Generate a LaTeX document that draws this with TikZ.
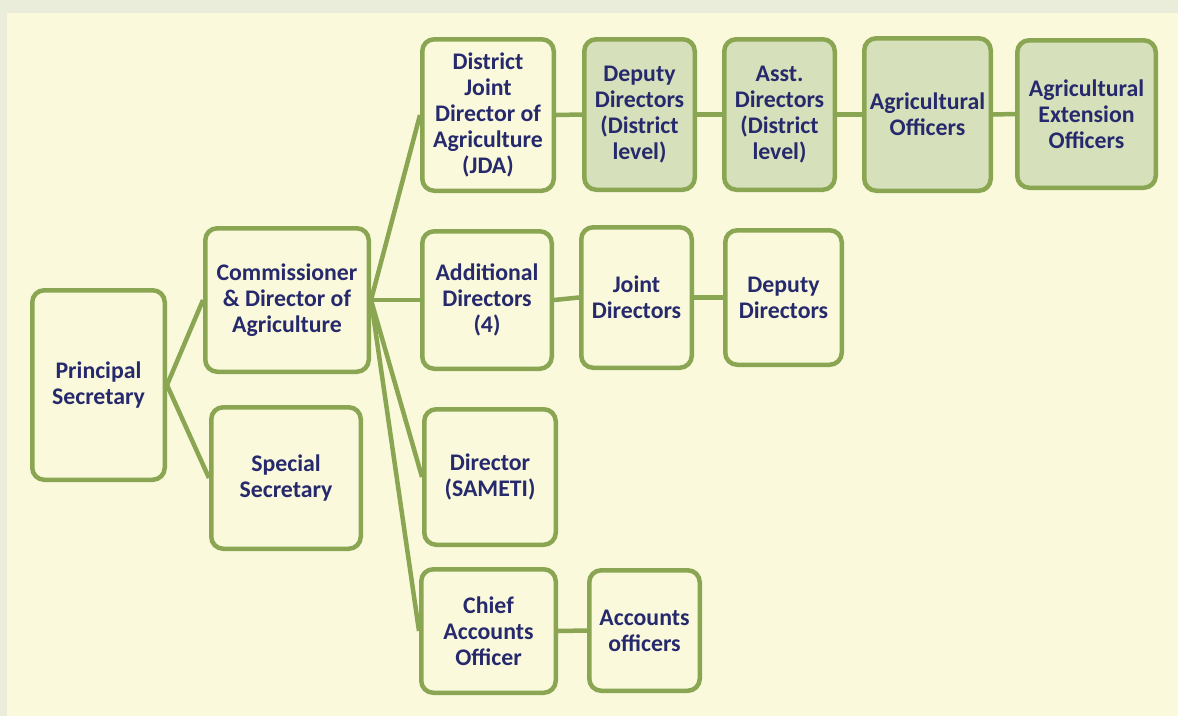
\documentclass[tikz,border=0pt]{standalone}
\usepackage{fontspec}
\setmainfont{Carlito}
\definecolor{pagebg}{HTML}{FAF9DC}
\definecolor{framebg}{HTML}{EAEDDA}
\definecolor{leaf}{HTML}{8AA653}
\definecolor{leaffill}{HTML}{D6E0BA}
\definecolor{ink}{HTML}{262A6C}
\begin{document}
\begin{tikzpicture}[x=1pt,y=-1pt,
  box/.style={draw=leaf, line width=4.5pt, rounded corners=12pt, fill=pagebg,
    align=center, text=ink, inner sep=0pt,
    font=\bfseries\fontsize{23.8}{26.2}\selectfont},
  shaded/.style={box, fill=leaffill},
  link/.style={draw=leaf, line width=4.5pt}]
% page and frame
\fill[framebg] (0,0) rectangle (1178,716);
\fill[pagebg] (7,13) rectangle (1178,716);
\useasboundingbox (0,0) rectangle (1178,716);

% boxes
\node[box, minimum width=132.5pt, minimum height=189.5pt] (ps) at (98.5,385) {Principal\\Secretary};
\node[box, minimum width=163.5pt, minimum height=143.5pt] (com) at (287,300) {Commissioner\\\& Director of\\Agriculture};
\node[box, minimum width=149.5pt, minimum height=141.5pt] (spec) at (286,478) {Special\\Secretary};

\node[box, minimum width=131.5pt, minimum height=151.5pt] (jda) at (488,115) {District\\Joint\\Director of\\Agriculture\\(JDA)};
\node[shaded, minimum width=110.5pt, minimum height=150.5pt] (ddd) at (639.5,114.5) {Deputy\\Directors\\(District\\level)};
\node[shaded, minimum width=110.5pt, minimum height=150.5pt] (add) at (779.5,114.5) {Asst.\\Directors\\(District\\level)};
\node[shaded, minimum width=126.5pt, minimum height=152.5pt] (ao) at (927.5,114.5) {Agricultural\\Officers};
\node[shaded, minimum width=138.5pt, minimum height=147.5pt] (aeo) at (1086.5,114) {Agricultural\\Extension\\Officers};

\node[box, minimum width=129.5pt, minimum height=137.5pt] (adir) at (487,300) {Additional\\Directors\\(4)};
\node[box, minimum width=110.5pt, minimum height=140.5pt] (jd) at (636.5,297.5) {Joint\\Directors};
\node[box, minimum width=116.5pt, minimum height=134.5pt] (dd) at (783.5,297.5) {Deputy\\Directors};

\node[box, minimum width=131.5pt, minimum height=135.5pt] (sam) at (490,477) {Director\\(SAMETI)};

\node[box, minimum width=134.5pt, minimum height=123.5pt] (cao) at (488.5,631) {Chief\\Accounts\\Officer};
\node[box, minimum width=110.5pt, minimum height=120.5pt] (acc) at (644.5,630.5) {Accounts\\officers};

% connectors
\draw[link] (ps.east) -- (com.west);
\draw[link] (ps.east) -- (spec.west);
\draw[link] (com.east) -- (jda.west);
\draw[link] (com.east) -- (adir.west);
\draw[link] (com.east) -- (sam.west);
\draw[link] (com.east) -- (cao.west);
\draw[link] (jda.east) -- (ddd.west);
\draw[link] (ddd.east) -- (add.west);
\draw[link] (add.east) -- (ao.west);
\draw[link] (ao.east) -- (aeo.west);
\draw[link] (adir.east) -- (jd.west);
\draw[link] (jd.east) -- (dd.west);
\draw[link] (cao.east) -- (acc.west);
\end{tikzpicture}
\end{document}
